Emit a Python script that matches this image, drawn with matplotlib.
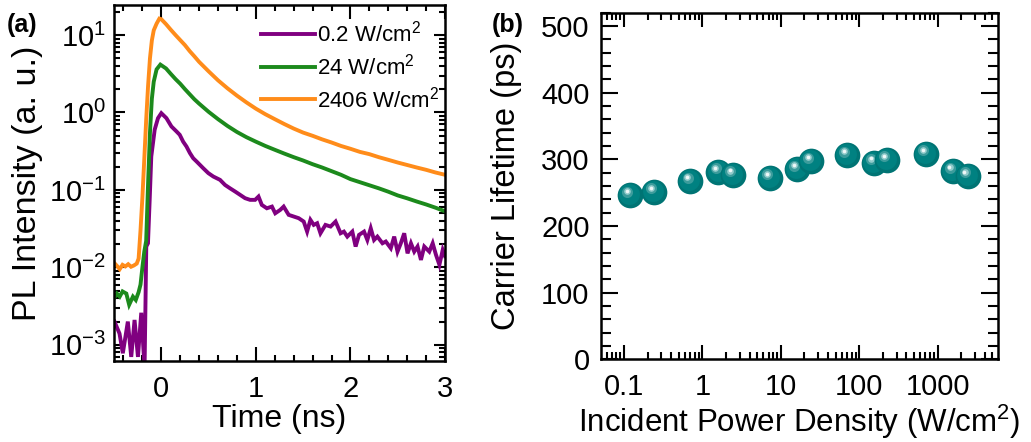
import matplotlib
matplotlib.use("Agg")
import matplotlib.pyplot as plt
import matplotlib.transforms as mtransforms
from matplotlib import ticker

plt.rcParams["font.family"] = ["Liberation Sans", "DejaVu Sans"]
plt.rcParams["mathtext.fontset"] = "custom"
plt.rcParams["mathtext.rm"] = "Liberation Sans"
plt.rcParams["mathtext.it"] = "Liberation Sans:italic"
plt.rcParams["mathtext.bf"] = "Liberation Sans:bold"

# ---------------- (a) time-resolved PL decays ----------------
t_high = [-0.5, -0.47, -0.44, -0.41, -0.38, -0.35, -0.32, -0.29, -0.26, -0.24,
          -0.22, -0.2, -0.18, -0.16, -0.14, -0.12, -0.1, -0.08, -0.05, -0.02,
          0.0, 0.05, 0.1, 0.15, 0.2, 0.25, 0.3, 0.35, 0.4, 0.5, 0.6, 0.7, 0.8,
          0.9, 1.0, 1.1, 1.2, 1.3, 1.4, 1.5, 1.6, 1.7, 1.8, 1.9, 2.0, 2.1, 2.2,
          2.3, 2.4, 2.5, 2.6, 2.7, 2.8, 2.9, 3.0]
pl_high = [0.0115, 0.0105, 0.0095, 0.0108, 0.0103, 0.011, 0.0102, 0.0106, 0.0112, 0.013,
           0.03, 0.08, 0.25, 0.8, 2.2, 5.0, 8.5, 11.5, 14.0, 16.3,
           16.0, 13.8, 11.7, 10.0, 8.6, 7.4, 6.2, 5.3, 4.5, 3.4, 2.6, 2.05, 1.65,
           1.35, 1.12, 0.95, 0.82, 0.71, 0.62, 0.55, 0.5, 0.45, 0.41, 0.37, 0.34, 0.31, 0.29,
           0.265, 0.245, 0.226, 0.21, 0.195, 0.182, 0.168, 0.157]

t_mid = [-0.5, -0.47, -0.44, -0.41, -0.37, -0.34, -0.3, -0.27, -0.24, -0.22,
         -0.2, -0.18, -0.16, -0.14, -0.12, -0.1, -0.08, -0.05, -0.01, 0.05,
         0.1, 0.15, 0.2, 0.25, 0.3, 0.35, 0.4, 0.5, 0.6, 0.7, 0.8, 0.9, 1.0,
         1.1, 1.2, 1.3, 1.4, 1.5, 1.6, 1.7, 1.8, 1.9, 2.0, 2.1, 2.2, 2.3, 2.4,
         2.5, 2.6, 2.7, 2.8, 2.9, 3.0]
pl_mid = [0.004, 0.0046, 0.0042, 0.0049, 0.0046, 0.0033, 0.0042, 0.0038, 0.0048, 0.006,
          0.01, 0.016, 0.022, 0.12, 0.55, 1.5, 2.5, 3.6, 4.15, 3.7,
          3.15, 2.7, 2.35, 2.0, 1.72, 1.48, 1.3, 1.02, 0.82, 0.67, 0.56, 0.48, 0.42,
          0.37, 0.33, 0.295, 0.265, 0.24, 0.215, 0.195, 0.175, 0.157, 0.138, 0.126, 0.115, 0.105, 0.095,
          0.085, 0.078, 0.071, 0.065, 0.059, 0.053]

t_low = [-0.495, -0.442, -0.407, -0.354, -0.318, -0.283, -0.247, -0.212, -0.177, -0.159,
         -0.141, -0.123, -0.106, -0.07, -0.035, 0.0, 0.054, 0.107, 0.16, 0.195,
         0.231, 0.266, 0.302, 0.337, 0.373, 0.408, 0.443, 0.497, 0.55, 0.621,
         0.674, 0.727, 0.78, 0.833, 0.886, 0.939, 0.992, 1.028, 1.063, 1.116,
         1.17, 1.205, 1.258, 1.294, 1.347, 1.4, 1.453, 1.506, 1.542, 1.577,
         1.612, 1.648, 1.683, 1.736, 1.79, 1.843, 1.896, 1.931, 1.967, 2.02,
         2.055, 2.091, 2.144, 2.179, 2.215, 2.25, 2.285, 2.339, 2.374, 2.427,
         2.463, 2.498, 2.533, 2.569, 2.604, 2.64, 2.675, 2.71, 2.746, 2.781,
         2.834, 2.87, 2.905, 2.941, 2.976, 3.0]
pl_low = [0.002, 0.0014, 0.00078, 0.002, 0.0007, 0.0021, 0.0007, 0.0026, 0.0005, 0.0186,
          0.0205, 0.0745, 0.27, 0.6, 0.845, 0.98, 0.845, 0.66, 0.57, 0.515,
          0.42, 0.364, 0.3, 0.257, 0.233, 0.211, 0.191, 0.165, 0.149, 0.135,
          0.116, 0.105, 0.0955, 0.0865, 0.0783, 0.0745, 0.0745, 0.0822, 0.0641, 0.058,
          0.061, 0.05, 0.0553, 0.061, 0.0477, 0.0454, 0.0432, 0.0391, 0.029, 0.0411,
          0.0354, 0.0372, 0.0276, 0.0354, 0.0337, 0.0391, 0.0276, 0.029, 0.025, 0.029,
          0.0186, 0.0263, 0.029, 0.0226, 0.032, 0.0226, 0.025, 0.0205, 0.0216, 0.0177,
          0.025, 0.016, 0.0205, 0.0276, 0.0152, 0.0205, 0.016, 0.0186, 0.0125, 0.0186,
          0.016, 0.0205, 0.0145, 0.0108, 0.0168, 0.014]

series_labels = ["0.2 W/cm$^2$", "24 W/cm$^2$", "2406 W/cm$^2$"]
series_colors = ["#800080", "#1c8a1c", "#ff8c1a"]

# ---------------- (b) carrier lifetime vs. power density ----------------
power_density = [0.12, 0.24, 0.7, 1.6, 2.45, 7.2, 16, 24, 70, 155, 225, 710, 1550, 2406]
lifetime_ps = [246, 251, 267, 281, 277, 272, 285, 297, 306, 295, 299, 308, 282, 275]

fig = plt.figure(figsize=(10.31, 4.42), dpi=100)
ax1 = fig.add_axes([0.1106, 0.1833, 0.321, 0.8054])
ax2 = fig.add_axes([0.5826, 0.1869, 0.385, 0.7844])

TICK_FS = 21

for ax in (ax1, ax2):
    for sp in ax.spines.values():
        sp.set_linewidth(1.8)
    ax.tick_params(which="both", direction="in", top=True, right=True,
                   width=1.5, labelsize=TICK_FS)

# panel (a)
for t, v, lab, col in zip([t_low, t_mid, t_high], [pl_low, pl_mid, pl_high],
                          series_labels, series_colors):
    ax1.plot(t, v, color=col, lw=2.8, label=lab, solid_joinstyle="miter")
ax1.set_yscale("log")
ax1.set_xlim(-0.5, 3.0)
ax1.set_ylim(6.2e-4, 24.4)
ax1.xaxis.set_major_locator(ticker.MultipleLocator(1))
ax1.xaxis.set_minor_locator(ticker.MultipleLocator(0.2))
ax1.yaxis.set_major_locator(ticker.LogLocator(base=10, numticks=10))
ax1.yaxis.set_minor_locator(ticker.LogLocator(base=10, subs=range(2, 10), numticks=10))
ax1.yaxis.set_minor_formatter(ticker.NullFormatter())
ax1.yaxis.set_major_formatter(ticker.LogFormatterSciNotation())
ax1.xaxis.set_major_formatter(ticker.FuncFormatter(lambda v, _: f"{v:g}"))
ax1.tick_params(which="major", length=8)
ax1.tick_params(which="minor", length=4.5)
ax1.tick_params(axis="y", which="major", pad=6)
ax1.tick_params(axis="x", which="major", length=10, pad=10)
ax1.set_xlabel("Time (ns)", fontsize=23, labelpad=1)
ax1.set_ylabel("PL Intensity (a. u.)", fontsize=24.5, labelpad=4)
ax1.legend(loc="upper right", bbox_to_anchor=(0.985, 0.955), frameon=False,
           fontsize=16, handlelength=2.45, handletextpad=0.1,
           labelspacing=0.3, borderaxespad=0, borderpad=0)

# panel (b): shaded spheres
def shifted(dx, dy):
    return ax2.transData + mtransforms.ScaledTranslation(dx / 72, dy / 72, fig.dpi_scale_trans)

ball_layers = [(18.5, "#007474", 0.0, 0.0),
               (15.0, "#008181", -0.6, 0.8),
               (8.0, "#3c9c9c", -1.9, 2.7),
               (4.8, "#93cccc", -2.1, 3.0),
               (2.6, "#eef8f8", -2.2, 3.1)]
for i, (p, tau) in enumerate(zip(power_density, lifetime_ps)):
    for j, (d, c, dx, dy) in enumerate(ball_layers):
        ax2.scatter([p], [tau], s=d ** 2, color=c, linewidths=0,
                    transform=shifted(dx, dy), zorder=3 + i * 0.1 + j * 0.01,
                    clip_on=False)
ax2.set_xscale("log")
ax2.set_xlim(0.0505, 5820)
ax2.set_ylim(0, 520)
ax2.yaxis.set_major_locator(ticker.MultipleLocator(100))
ax2.yaxis.set_minor_locator(ticker.MultipleLocator(20))
ax2.xaxis.set_major_locator(ticker.LogLocator(base=10, numticks=10))
ax2.xaxis.set_minor_locator(ticker.LogLocator(base=10, subs=range(2, 10), numticks=10))
ax2.xaxis.set_minor_formatter(ticker.NullFormatter())
ax2.xaxis.set_major_formatter(ticker.FuncFormatter(lambda v, _: f"{v:g}"))
ax2.tick_params(axis="y", which="major", length=12, pad=8)
ax2.tick_params(axis="y", which="minor", length=7)
ax2.tick_params(axis="x", which="major", length=10, pad=10)
ax2.tick_params(axis="x", which="minor", length=5)
ax2.set_xlabel("Incident Power Density (W/cm$^2$)", fontsize=22.5, labelpad=1)
ax2.set_ylabel("Carrier Lifetime (ps)", fontsize=23.5, labelpad=14)

fig.text(0.007, 0.943, "(a)", fontsize=18, fontweight="bold", va="center", ha="left")
fig.text(0.477, 0.943, "(b)", fontsize=18, fontweight="bold", va="center", ha="left")

fig.savefig("out.png", dpi=100)
